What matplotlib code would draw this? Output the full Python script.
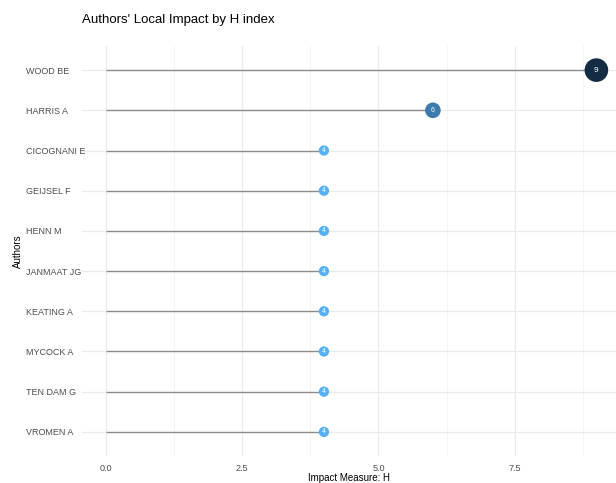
import matplotlib
matplotlib.use("Agg")
import matplotlib.pyplot as plt
from matplotlib.colors import LinearSegmentedColormap, Normalize
import numpy as np

plt.rcParams['font.family'] = ['Liberation Sans', 'DejaVu Sans']

authors = ["WOOD BE", "HARRIS A", "CICOGNANI E", "GEIJSEL F", "HENN M",
           "JANMAAT JG", "KEATING A", "MYCOCK A", "TEN DAM G", "VROMEN A"]
h_index = [9, 6, 4, 4, 4, 4, 4, 4, 4, 4]
x_ticks = [0.0, 2.5, 5.0, 7.5]
x_tick_labels = ["0.0", "2.5", "5.0", "7.5"]

fig = plt.figure(figsize=(6.16, 4.83), dpi=100)
ax = fig.add_axes([82/616, 1-456/483, 1-82/616, (456-46)/483])

n = len(authors)
ypos = np.arange(n)[::-1] + 1  # first author at top

cmap = LinearSegmentedColormap.from_list("gg", ["#56B1F7", "#132B43"])
norm = Normalize(vmin=min(h_index), vmax=max(h_index))

# grid
for xv in x_ticks:
    ax.axvline(xv, color="#EBEBEB", lw=0.9, zorder=0)
for xv in [1.25, 3.75, 6.25, 8.75]:
    ax.axvline(xv, color="#F2F2F2", lw=0.6, zorder=0)
for yv in ypos:
    ax.axhline(yv, color="#EBEBEB", lw=0.9, zorder=0)

sizes = []
for v in h_index:
    d_pt = 7.4 + (v - 4) * (17.0 - 7.4) / 5
    sizes.append(d_pt ** 2)

for y, v in zip(ypos, h_index):
    ax.plot([0, v], [y, y], color="#8C8C8C", lw=1.0, zorder=1, solid_capstyle="butt")
ax.scatter(h_index, ypos, s=sizes, c=[cmap(norm(v)) for v in h_index], zorder=2, linewidths=0)
for y, v in zip(ypos, h_index):
    ax.text(v, y, str(v), color="white", fontsize=5 if v < 9 else 6, ha="center", va="center", zorder=3)

ax.set_xlim(-0.44, 9.36)
ax.set_ylim(0.4, n + 0.6)
ax.set_xticks(x_ticks)
ax.set_xticklabels(x_tick_labels)
ax.set_yticks(ypos)
ax.set_yticklabels(authors)
ax.tick_params(axis="both", length=0, labelsize=6.5, labelcolor="#4D4D4D")
ax.tick_params(axis="x", pad=6)
for lab in ax.get_yticklabels():
    lab.set_horizontalalignment("left")
ax.yaxis.set_tick_params(pad=40)
for s in ax.spines.values():
    s.set_visible(False)

ax.set_xlabel("Impact Measure: H", fontsize=7, color="black", va="center")
ax.xaxis.set_label_coords(0.5, (456-478)/410)
ax.set_ylabel("Authors", fontsize=7, color="black", va="center")
ax.yaxis.set_label_coords((18-82)/534, 0.5)
fig.text(82/616, 1-20/483, "Authors' Local Impact by H index", fontsize=9.5, va="center", ha="left", color="black")

fig.savefig("out.png", dpi=100)
